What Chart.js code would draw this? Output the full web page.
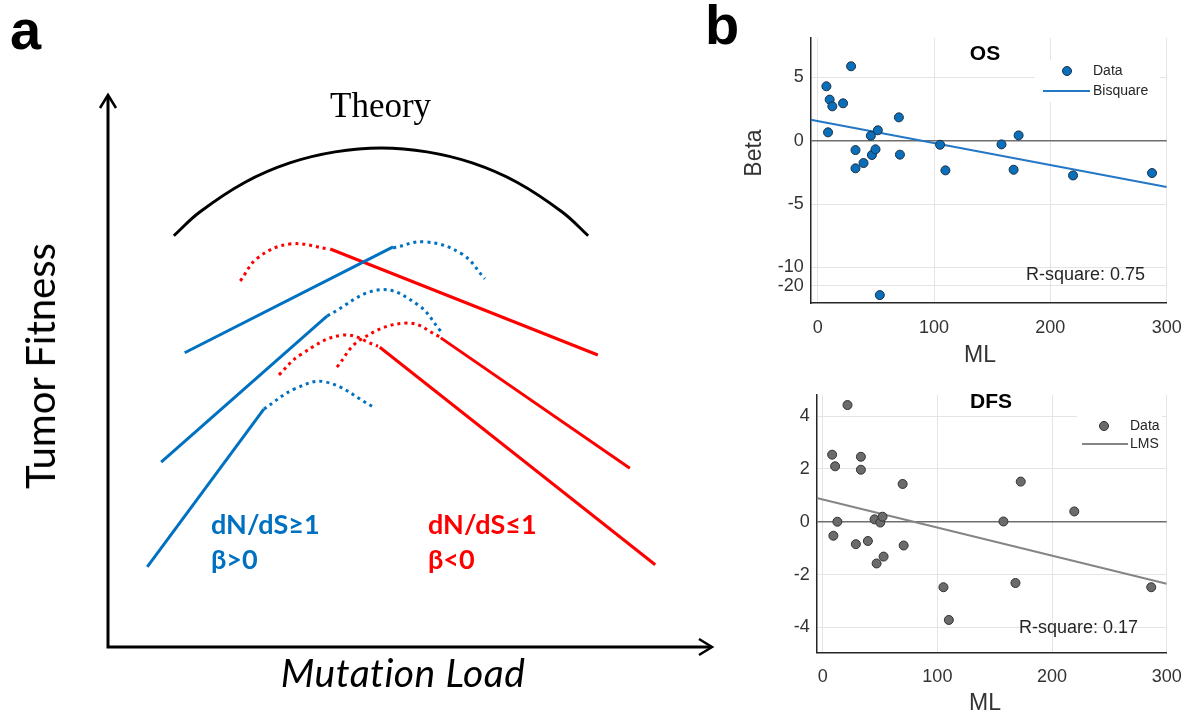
<!doctype html>
<html lang="en">
<head>
<meta charset="utf-8">
<script src="https://cdn.jsdelivr.net/npm/chart.js"></script>
<style>
  body { margin: 0; background: #fff; }
  #page { position: relative; width: 1188px; height: 715px; overflow: hidden; }
  .box { position: absolute; }
  .lbl { position: absolute; white-space: nowrap; line-height: 1; }
  .big { font-family: "Liberation Sans", Arial, sans-serif; font-weight: bold; }
  .cal { font-family: Lato, sans-serif; }
  .blue { color: #0070c0; font-weight: bold; font-size: 27px; }
  .red { color: #ff0000; font-weight: bold; font-size: 27px; }
</style>
</head>
<body>
<div id="page">
  <div class="box" style="left:0;top:0;width:720px;height:715px"><canvas id="theory"></canvas></div>
  <div class="box" style="left:730px;top:0;width:458px;height:375px"><canvas id="osChart"></canvas></div>
  <div class="box" style="left:730px;top:375px;width:458px;height:340px"><canvas id="dfsChart"></canvas></div>

  <div class="lbl big" style="left:10px;top:2px;font-size:56px">a</div>
  <div class="lbl big" style="left:705px;top:-3px;font-size:56px">b</div>
  <div class="lbl" style="left:330px;top:88px;font-family:'Liberation Serif',serif;font-size:35px">Theory</div>
  <div class="lbl cal" style="left:40px;top:366px;font-size:40px;transform:translate(-50%,-50%) rotate(-90deg)">Tumor Fitness</div>
  <div class="lbl cal" style="left:403px;top:672px;font-size:39px;font-style:italic;letter-spacing:0.5px;transform:translate(-50%,-50%)">Mutation Load</div>
  <div class="lbl cal blue" style="left:211px;top:510px">dN/dS≥1</div>
  <div class="lbl cal blue" style="left:211px;top:545px">β&gt;0</div>
  <div class="lbl cal red" style="left:428px;top:510px">dN/dS≤1</div>
  <div class="lbl cal red" style="left:428px;top:545px">β&lt;0</div>
</div>
<script>
// ---- panel a: schematic curves (mutation load 0-100, fitness 0-100) ----
const theoryArc = [[10.9, 74.5], [15.2, 78.8], [22.7, 84.2], [30.1, 87.7], [37.6, 89.7], [45.2, 90.4],
                   [52.8, 89.7], [60.3, 87.7], [67.7, 84.2], [75.2, 78.8], [79.5, 74.5]];
const redArc1 = [[21.9, 66.3], [24.8, 70.5], [30.1, 73.0], [36.6, 72.1]];
const redLine1 = [[36.8, 72.1], [81.1, 52.9]];
const blueLine1 = [[12.7, 53.3], [47.2, 72.5]];
const blueArc1 = [[47.2, 72.3], [52.5, 73.4], [58.6, 71.2], [62.4, 66.7]];
const blueLine2 = [[8.8, 33.5], [36.3, 60.0]];
const blueArc2 = [[36.3, 60.0], [44.9, 64.7], [51.3, 62.0], [55.1, 57.2]];
const redArc2 = [[28.3, 49.3], [31.8, 52.9], [38.9, 56.5], [44.7, 54.5]];
const redLine2 = [[45.0, 54.3], [90.6, 14.9]];
const redArc3 = [[37.9, 50.7], [41.7, 55.6], [49.5, 58.7], [55.0, 56.2]];
const redLine3 = [[55.1, 56.0], [86.4, 32.4]];
const blueLine3 = [[6.5, 14.5], [25.8, 43.1]];
const blueArc3 = [[25.8, 43.1], [31.0, 46.8], [36.1, 48.0], [43.9, 43.5]];

// ---- panel b: regression of beta on mutation load ----
const mlOS = [7.5, 28.7, 10.3, 12.6, 21.8, 8.9, 32.5, 32.5, 39.4, 45.7, 46.6, 51.7, 49.7, 69.8, 70.7, 53.4, 105.2, 109.8, 158, 168.4, 172.7, 219.5, 287.4];
const betaOS = [4.29, 5.87, 3.24, 2.71, 2.95, 0.66, -0.74, -2.18, -1.76, 0.39, -1.13, 0.82, -0.68, 1.84, -1.1, -25, -0.32, -2.34, -0.29, -2.29, 0.42, -2.74, -2.55];
const osFit = [[-6, 1.66], [300, -3.65]];
const osTicks = [5, 0, -5, -10, -20];

const mlDFS = [21.6, 8.2, 10.8, 33.3, 33.3, 69.7, 12.8, 9.3, 28.9, 39.4, 45.2, 50.2, 52.2, 47, 53.1, 70.6, 105.3, 110, 157.6, 172.7, 168.1, 219.4, 286.5];
const betaDFS = [4.42, 2.54, 2.10, 2.46, 1.97, 1.43, 0, -0.53, -0.85, -0.73, 0.09, -0.03, 0.19, -1.58, -1.32, -0.9, -2.48, -3.72, 0.01, 1.52, -2.32, 0.39, -2.48];
const dfsFit = [[-5.25, 0.9], [300, -2.35]];
const dfsTicks = [4, 2, 0, -2, -4];

const mlTicks = [0, 100, 200, 300];

const BLUE = '#0070c0', RED = '#ff0000';
const tickColor = '#333';
const sans = '"Liberation Sans", Arial, sans-serif';

// OS y axis is broken below -10
const osDisp = v => v >= -10 ? v : -10 + (v + 10) * 0.145;

function seg(pts, color, dotted) {
  return {
    data: pts.map(p => ({ x: p[0], y: p[1] })),
    showLine: true,
    borderColor: color,
    borderWidth: 3,
    borderDash: dotted ? [3, 4] : [],
    borderCapStyle: 'butt',
    pointRadius: 0,
    tension: pts.length > 2 ? 0.4 : 0,
    clip: false
  };
}

const arrowAxes = {
  id: 'arrowAxes',
  afterDraw(chart) {
    const { ctx, chartArea: a } = chart;
    ctx.save();
    ctx.strokeStyle = '#000';
    ctx.lineWidth = 3;
    ctx.beginPath();
    ctx.moveTo(a.left, a.top + 1);
    ctx.lineTo(a.left, a.bottom);
    ctx.lineTo(a.right - 1, a.bottom);
    ctx.stroke();
    ctx.lineWidth = 2.5;
    ctx.beginPath();
    ctx.moveTo(a.left - 8, a.top + 13);
    ctx.lineTo(a.left, a.top);
    ctx.lineTo(a.left + 8, a.top + 13);
    ctx.moveTo(a.right - 13, a.bottom - 8);
    ctx.lineTo(a.right, a.bottom);
    ctx.lineTo(a.right - 13, a.bottom + 8);
    ctx.stroke();
    ctx.restore();
  }
};

new Chart(document.getElementById('theory'), {
  type: 'scatter',
  data: {
    datasets: [
      seg(theoryArc, '#000', false),
      seg(blueLine1, BLUE, false), seg(blueArc1, BLUE, true),
      seg(redArc1, RED, true), seg(redLine1, RED, false),
      seg(blueLine2, BLUE, false), seg(blueArc2, BLUE, true),
      seg(redArc2, RED, true), seg(redLine2, RED, false),
      seg(redArc3, RED, true), seg(redLine3, RED, false),
      seg(blueLine3, BLUE, false), seg(blueArc3, BLUE, true)
    ]
  },
  options: {
    responsive: true,
    maintainAspectRatio: false,
    animation: false,
    layout: { padding: { left: 108, top: 95, right: 8, bottom: 68 } },
    scales: {
      x: { display: false, min: 0, max: 100 },
      y: { display: false, min: 0, max: 100 }
    },
    plugins: { legend: { display: false }, tooltip: { enabled: false } }
  },
  plugins: [arrowAxes]
});

// text, legend and labels drawn inside the regression panels
const panelText = {
  id: 'panelText',
  afterDraw(chart, args, o) {
    const ctx = chart.ctx;
    ctx.save();
    ctx.fillStyle = '#fff';
    ctx.fillRect(o.legend.box[0], o.legend.box[1], o.legend.box[2], o.legend.box[3]);
    const pts = chart.data.datasets[0], fit = chart.data.datasets[1];
    ctx.beginPath();
    ctx.arc(o.legend.marker[0], o.legend.marker[1], 4.5, 0, Math.PI * 2);
    ctx.fillStyle = pts.backgroundColor;
    ctx.fill();
    ctx.lineWidth = 1;
    ctx.strokeStyle = pts.borderColor;
    ctx.stroke();
    ctx.beginPath();
    ctx.moveTo(o.legend.line[0], o.legend.line[2]);
    ctx.lineTo(o.legend.line[1], o.legend.line[2]);
    ctx.lineWidth = 2;
    ctx.strokeStyle = fit.borderColor;
    ctx.stroke();
    ctx.fillStyle = '#262626';
    ctx.font = '14px ' + sans;
    ctx.textBaseline = 'middle';
    ctx.textAlign = 'left';
    ctx.fillText(pts.label, o.legend.textX, o.legend.marker[1]);
    ctx.fillText(fit.label, o.legend.textX, o.legend.line[2]);

    ctx.font = 'bold 21px ' + sans;
    ctx.textAlign = 'center';
    ctx.fillStyle = '#000';
    ctx.fillText(o.title[0], o.title[1], o.title[2]);

    ctx.font = '18px ' + sans;
    ctx.textAlign = 'right';
    ctx.fillStyle = '#262626';
    ctx.fillText(o.rsq[0], o.rsq[1], o.rsq[2]);

    ctx.font = '23px ' + sans;
    ctx.textAlign = 'center';
    ctx.fillStyle = tickColor;
    ctx.fillText('ML', o.xTitle[0], o.xTitle[1]);
    ctx.translate(o.yTitle[0], o.yTitle[1]);
    ctx.rotate(-Math.PI / 2);
    ctx.fillText('Beta', 0, 0);
    ctx.restore();
  }
};

function regOptions(cfg) {
  return {
    responsive: true,
    maintainAspectRatio: false,
    animation: false,
    layout: { padding: { left: 0, top: cfg.top, right: 21.3, bottom: 0 } },
    scales: {
      x: {
        type: 'linear', min: cfg.xMin, max: 300,
        afterBuildTicks: s => { s.ticks = mlTicks.map(v => ({ value: v })); },
        afterFit: s => { s.height = cfg.xHeight; s.paddingLeft = 0; s.paddingRight = 0; },
        ticks: { color: tickColor, font: { family: sans, size: 18 }, padding: cfg.xPad, maxRotation: 0 },
        grid: { color: '#e4e4e4', drawTicks: false },
        border: { color: '#262626', width: 1.5 }
      },
      y: {
        type: 'linear', min: cfg.yMin, max: cfg.yMax,
        afterBuildTicks: s => { s.ticks = cfg.yTicks.map(v => ({ value: cfg.disp(v) })); },
        afterFit: s => { s.width = cfg.yWidth; s.paddingTop = 0; s.paddingBottom = 0; },
        ticks: {
          color: tickColor, font: { family: sans, size: 18 }, padding: 7,
          callback: (v, i) => String(cfg.yTicks[i])
        },
        grid: {
          drawTicks: false,
          color: c => (c.tick && c.tick.value === 0) ? '#6e6e6e' : '#e4e4e4',
          lineWidth: c => (c.tick && c.tick.value === 0) ? 1.5 : 1
        },
        border: { color: '#262626', width: 1.5 }
      }
    },
    plugins: { legend: { display: false }, tooltip: { enabled: false }, panelText: cfg.text }
  };
}

new Chart(document.getElementById('osChart'), {
  type: 'scatter',
  data: {
    datasets: [
      { label: 'Data', data: mlOS.map((x, i) => ({ x: x, y: osDisp(betaOS[i]) })),
        pointRadius: 4.5, backgroundColor: '#0a6fba', borderColor: '#1c2e44', borderWidth: 1, order: 1 },
      { label: 'Bisquare', data: osFit.map(p => ({ x: p[0], y: p[1] })), showLine: true,
        pointRadius: 0, borderColor: '#2477c4', borderWidth: 2, order: 2 }
    ]
  },
  options: regOptions({
    top: 38, xMin: -6, xHeight: 72, xPad: 14, yWidth: 80.7,
    yMin: -12.8, yMax: 8.1, yTicks: osTicks, disp: osDisp,
    text: {
      legend: { box: [305, 60, 125, 42], marker: [337, 71], line: [313, 360, 91], textX: 363 },
      title: ['OS', 255, 54],
      rsq: ['R-square: 0.75', 415, 275],
      xTitle: [250, 356],
      yTitle: [25, 153]
    }
  }),
  plugins: [panelText]
});

new Chart(document.getElementById('dfsChart'), {
  type: 'scatter',
  data: {
    datasets: [
      { label: 'Data', data: mlDFS.map((x, i) => ({ x: x, y: betaDFS[i] })),
        pointRadius: 4.5, backgroundColor: '#6b6b6b', borderColor: '#333', borderWidth: 1, order: 1 },
      { label: 'LMS', data: dfsFit.map(p => ({ x: p[0], y: p[1] })), showLine: true,
        pointRadius: 0, borderColor: '#858585', borderWidth: 2, order: 2 }
    ]
  },
  options: regOptions({
    top: 20, xMin: -5.25, xHeight: 62.3, xPad: 14, yWidth: 86.7,
    yMin: -4.96, yMax: 4.8, yTicks: dfsTicks, disp: v => v,
    text: {
      legend: { box: [347, 35, 85, 45], marker: [374, 51], line: [352, 398, 69], textX: 400 },
      title: ['DFS', 261, 27],
      rsq: ['R-square: 0.17', 408, 253],
      xTitle: [255, 329],
      yTitle: [42, 512]
    }
  }),
  plugins: [panelText]
});
</script>
</body>
</html>
